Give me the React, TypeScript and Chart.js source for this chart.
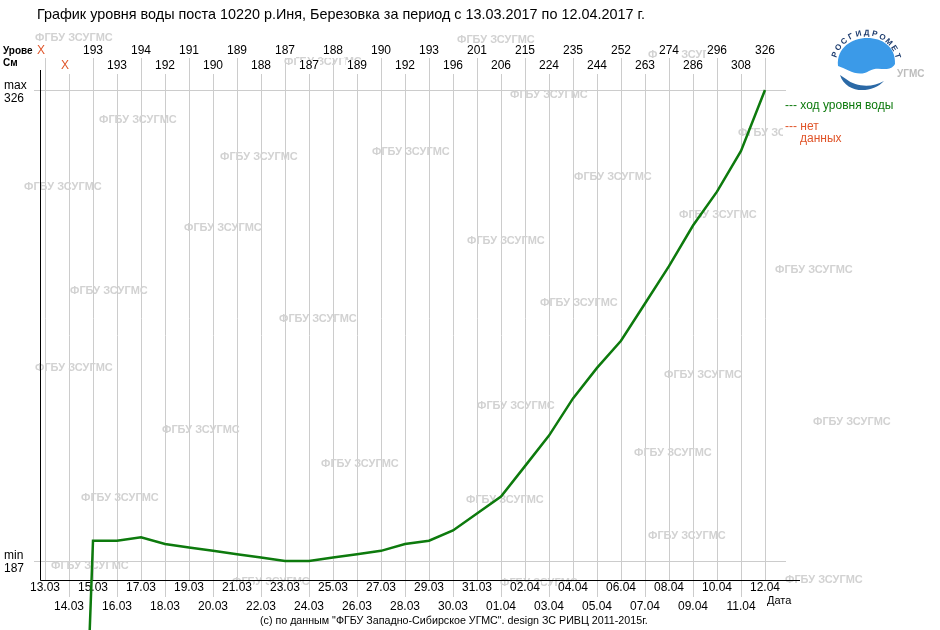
import React, { useEffect, useRef } from 'react';
import { Chart, registerables } from 'chart.js';

Chart.register(...registerables);

const TITLE = 'График уровня воды поста 10220 р.Иня, Березовка за период с 13.03.2017 по 12.04.2017 г.';
const COPYRIGHT = '(с) по данным "ФГБУ Западно-Сибирское УГМС". design ЗС РИВЦ 2011-2015г.';
const WATERMARK = 'ФГБУ ЗСУГМС';

const dates = ['13.03', '14.03', '15.03', '16.03', '17.03', '18.03', '19.03', '20.03', '21.03', '22.03', '23.03', '24.03', '25.03', '26.03', '27.03', '28.03', '29.03', '30.03', '31.03', '01.04', '02.04', '03.04', '04.04', '05.04', '06.04', '07.04', '08.04', '09.04', '10.04', '11.04', '12.04'];
// 0 = no data (plotted as 0 by the source system, labelled "X")
const levels = [0, 0, 193, 193, 194, 192, 191, 190, 189, 188, 187, 187, 188, 189, 190, 192, 193, 196, 201, 206, 215, 224, 235, 244, 252, 263, 274, 286, 296, 308, 326];
const levelMin = 187;
const levelMax = 326;

// decorative watermark anchor points (left x, middle y)
const watermarks: [number, number][] = [
  [35, 38], [457, 40], [284, 62], [648, 55], [510, 95], [99, 120], [738, 133],
  [220, 157], [372, 152], [24, 187], [574, 177], [679, 215], [184, 228], [467, 241],
  [775, 270], [70, 291], [540, 303], [279, 319], [35, 368], [664, 375], [477, 406],
  [813, 422], [162, 430], [634, 453], [321, 464], [81, 498], [466, 500], [648, 536],
  [51, 566], [232, 582], [500, 583], [785, 580],
];

const FONT = '"Liberation Sans", Arial, sans-serif';
const GREEN = '#0d7a0d';
const ORANGE = '#e0552a';

function labelBox(ctx: CanvasRenderingContext2D, text: string, cx: number, cy: number, color: string) {
  const w = ctx.measureText(text).width;
  ctx.fillStyle = '#ffffff';
  ctx.fillRect(cx - w / 2 - 1, cy - 6, w + 2, 13);
  ctx.fillStyle = color;
  ctx.fillText(text, cx, cy);
}

const decoPlugin = {
  id: 'deco',
  beforeDatasetsDraw(chart: any) {
    const ctx: CanvasRenderingContext2D = chart.ctx;
    const xs = chart.scales.x;
    const ys = chart.scales.y;
    const yMin = ys.getPixelForValue(levelMin);
    const yMax = ys.getPixelForValue(levelMax);
    const axisY = Math.round(yMin + 19) + 0.5;
    const axisX = Math.round(chart.chartArea.left - 5) + 0.5;
    ctx.save();

    // vertical grid lines
    ctx.strokeStyle = '#cccccc';
    ctx.lineWidth = 1;
    dates.forEach((_, i) => {
      const px = Math.round(xs.getPixelForValue(i)) + 0.5;
      ctx.beginPath();
      if (i % 2 === 0) {
        ctx.moveTo(px, 57);
        ctx.lineTo(px, axisY);
      } else {
        ctx.moveTo(px, 74);
        ctx.lineTo(px, 597);
      }
      ctx.stroke();
    });
    // max / min lines
    [yMax, yMin].forEach((py) => {
      const p = Math.round(py) + 0.5;
      ctx.beginPath();
      ctx.moveTo(34, p);
      ctx.lineTo(786, p);
      ctx.stroke();
    });

    // watermarks
    ctx.font = 'bold 11px ' + FONT;
    ctx.fillStyle = '#d2d2d2';
    ctx.textAlign = 'left';
    ctx.textBaseline = 'middle';
    watermarks.forEach(([wx, wy]) => ctx.fillText(WATERMARK, wx, wy));

    // title
    ctx.font = '14.4px ' + FONT;
    ctx.fillStyle = '#000';
    ctx.fillText(TITLE, 37, 15);

    // left texts
    ctx.font = 'bold 10px ' + FONT;
    ctx.fillText('Урове', 3, 51);
    ctx.fillText('См', 3, 63);
    ctx.font = '12px ' + FONT;
    ctx.fillText('max', 4, yMax - 4);
    ctx.fillText(String(levelMax), 4, yMax + 9);
    ctx.fillText('min', 4, yMin - 5);
    ctx.fillText(String(levelMin), 4, yMin + 8);

    // top value labels and bottom date labels
    ctx.textAlign = 'center';
    ctx.font = '12px ' + FONT;
    dates.forEach((d, i) => {
      const px = xs.getPixelForValue(i);
      const even = i % 2 === 0;
      const v = levels[i];
      const ty = even ? 51 : 66;
      if (v) {
        labelBox(ctx, String(v), px, ty, '#000');
      } else {
        labelBox(ctx, 'X', px - 4, ty, ORANGE);
      }
      labelBox(ctx, d, px, even ? 588 : 607, '#000');
    });

    // axes
    ctx.strokeStyle = '#000000';
    ctx.lineWidth = 1;
    ctx.beginPath();
    ctx.moveTo(axisX, 70);
    ctx.lineTo(axisX, axisY);
    ctx.lineTo(800, axisY);
    ctx.stroke();

    ctx.textAlign = 'left';
    ctx.font = '11px ' + FONT;
    ctx.fillStyle = '#000';
    ctx.fillText('Дата', 767, 601);
    ctx.font = '10.7px ' + FONT;
    ctx.fillText(COPYRIGHT, 260, 621);

    // legend
    ctx.fillStyle = '#fff';
    ctx.fillRect(783, 97, 150, 50);
    ctx.font = '12px ' + FONT;
    ctx.fillStyle = GREEN;
    ctx.fillText('--- ход уровня воды', 785, 106);
    ctx.fillStyle = ORANGE;
    ctx.fillText('--- нет', 785, 127);
    ctx.fillText('данных', 800, 139);

    // logo
    ctx.fillStyle = '#3b9ae8';
    ctx.beginPath();
    ctx.moveTo(838, 66);
    ctx.bezierCurveTo(835, 30, 897, 28, 895, 64);
    ctx.bezierCurveTo(889, 74, 879, 65, 869, 71);
    ctx.bezierCurveTo(858, 78, 847, 69, 838, 66);
    ctx.fill();
    ctx.fillStyle = '#2b69a6';
    ctx.beginPath();
    ctx.moveTo(840, 75);
    ctx.bezierCurveTo(846, 94, 872, 94, 884, 81);
    ctx.bezierCurveTo(872, 88, 856, 87, 846, 79);
    ctx.closePath();
    ctx.fill();
    const logoText = 'РОСГИДРОМЕТ';
    ctx.font = 'bold 8px ' + FONT;
    ctx.fillStyle = '#1d3c6e';
    ctx.textAlign = 'center';
    const a0 = (-160 * Math.PI) / 180;
    const a1 = (-18 * Math.PI) / 180;
    for (let k = 0; k < logoText.length; k++) {
      const a = a0 + ((a1 - a0) * k) / (logoText.length - 1);
      ctx.save();
      ctx.translate(866 + 33 * Math.cos(a), 66 + 33 * Math.sin(a));
      ctx.rotate(a + Math.PI / 2);
      ctx.fillText(logoText[k], 0, 0);
      ctx.restore();
    }
    ctx.textAlign = 'left';
    ctx.font = 'bold 10px ' + FONT;
    ctx.fillStyle = '#bdbdbd';
    ctx.fillText('УГМС', 897, 74);

    ctx.restore();
  },
};

export default function App() {
  const ref = useRef<HTMLCanvasElement>(null);
  useEffect(() => {
    if (!ref.current) return;
    const chart = new Chart(ref.current, {
      type: 'line',
      data: {
        labels: dates,
        datasets: [
          {
            label: 'ход уровня воды',
            data: levels,
            borderColor: GREEN,
            borderWidth: 2.5,
            pointRadius: 0,
            tension: 0,
            fill: false,
            clip: false as any,
          },
        ],
      },
      options: {
        animation: false,
        responsive: false,
        devicePixelRatio: 1,
        layout: { padding: { left: 45, right: 175, top: 90, bottom: 69 } },
        scales: {
          x: { type: 'category', display: false, offset: false },
          y: { type: 'linear', display: false, min: levelMin, max: levelMax },
        },
        plugins: { legend: { display: false }, tooltip: { enabled: false } },
        events: [],
      },
      plugins: [decoPlugin],
    });
    return () => chart.destroy();
  }, []);
  return (
    <div style={{ position: 'fixed', left: 0, top: 0, width: 940, height: 630, background: '#fff' }}>
      <canvas ref={ref} width={940} height={630} style={{ display: 'block' }} />
    </div>
  );
}
